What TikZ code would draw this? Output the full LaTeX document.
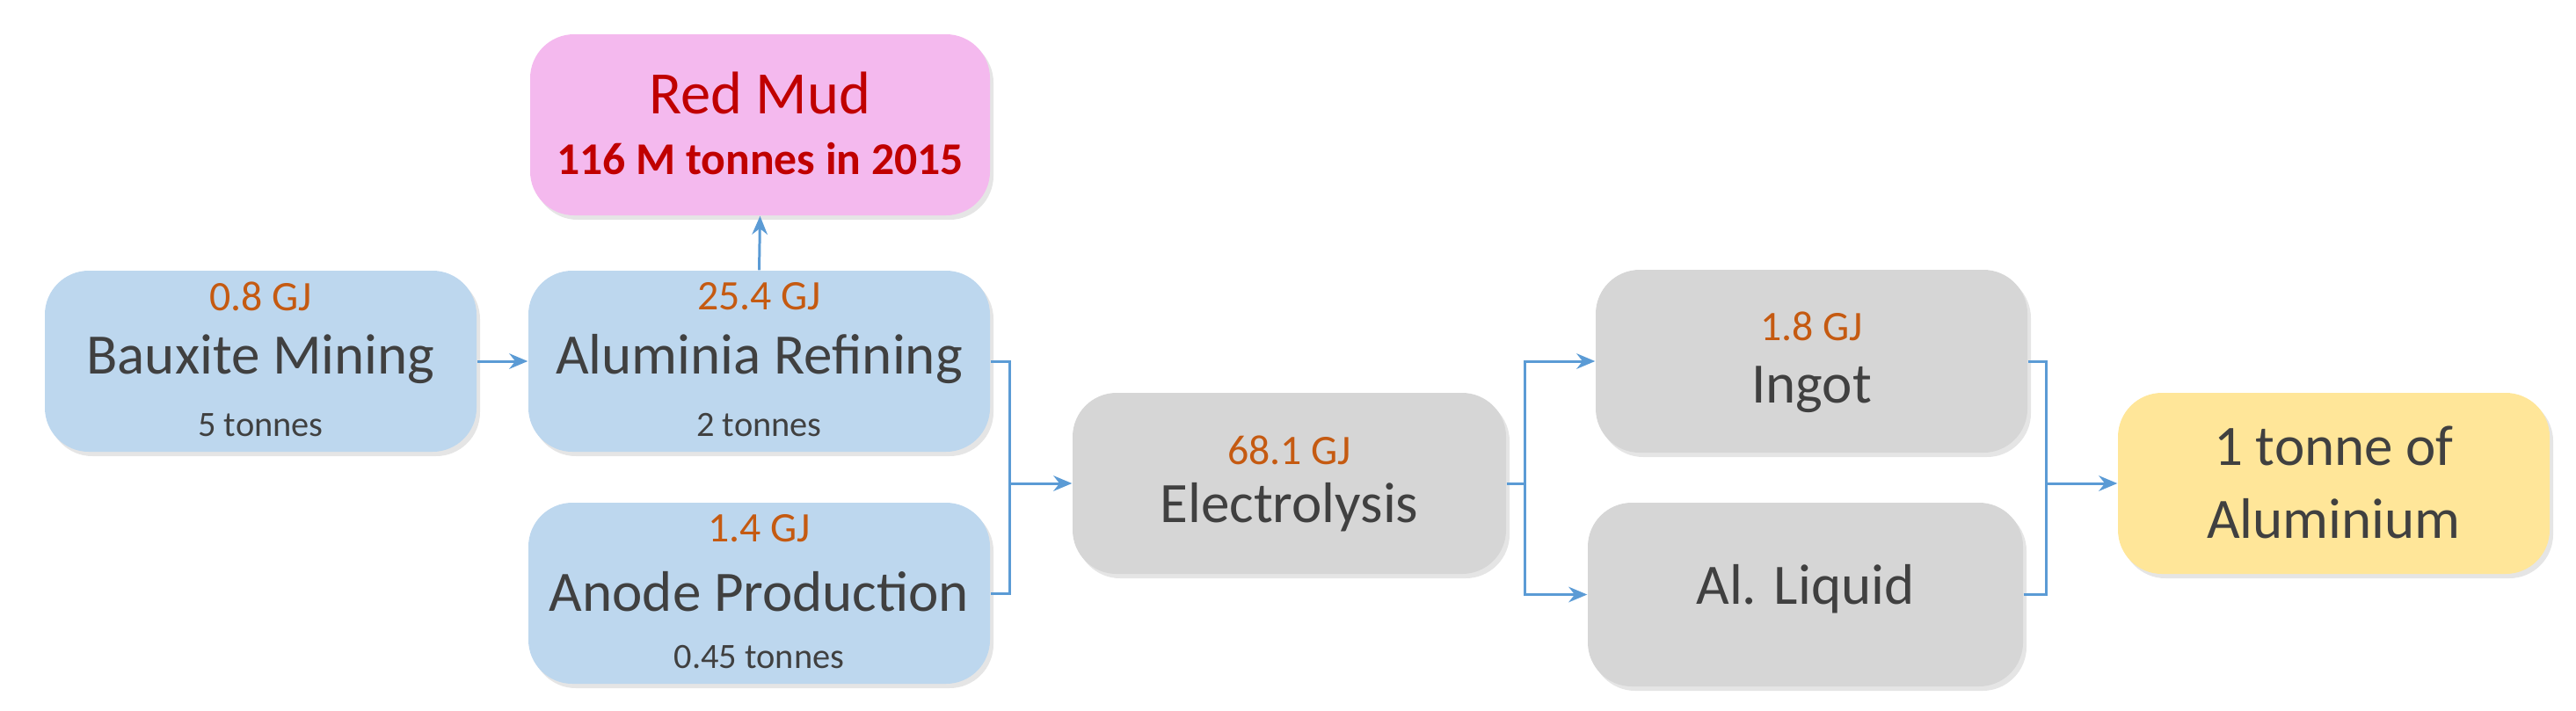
\documentclass[tikz,border=0pt]{standalone}
\usepackage{fontspec}
\setmainfont{Carlito}
\usetikzlibrary{arrows.meta}
\definecolor{bluef}{HTML}{BDD7EE}
\definecolor{grayf}{HTML}{D6D6D6}
\definecolor{pinkf}{HTML}{F4B9EE}
\definecolor{yellf}{HTML}{FFE699}
\definecolor{redt}{HTML}{C00000}
\definecolor{orat}{HTML}{C55A11}
\definecolor{dark}{HTML}{404040}
\definecolor{arr}{HTML}{5B9BD5}
\tikzset{
 box/.style={rounded corners=0.5cm, minimum width=4.91cm, minimum height=2.06cm, inner sep=0pt,
   preaction={fill=black!10, transform canvas={xshift=0.04cm,yshift=-0.05cm}}},
 gj/.style={text=orat, font=\fontsize{13.6}{14}\selectfont},
 mainl/.style={text=dark, font=\fontsize{18.5}{19}\selectfont},
 ton/.style={text=dark, font=\fontsize{11.5}{12}\selectfont},
 conn/.style={draw=arr, line width=0.85pt, -{Stealth[length=6pt,width=5pt]}},
 seg/.style={draw=arr, line width=0.85pt}
}
\begin{document}
\begin{tikzpicture}
\useasboundingbox (0,0) rectangle (29.3,-8.08);
% boxes
\node[box, fill=pinkf, minimum width=5.23cm] (rm) at (8.645,-1.42) {};
\node[box, fill=bluef] (bm) at (2.965,-4.11) {};
\node[box, fill=bluef, minimum width=5.25cm] (ar) at (8.635,-4.11) {};
\node[box, fill=bluef, minimum width=5.25cm] (ap) at (8.635,-6.75) {};
\node[box, fill=grayf, minimum width=4.93cm] (el) at (14.665,-5.50) {};
\node[box, fill=grayf, minimum height=2.08cm] (ig) at (20.605,-4.11) {};
\node[box, fill=grayf, minimum width=4.95cm, minimum height=2.09cm] (al) at (20.535,-6.765) {};
\node[box, fill=yellf] (tn) at (26.545,-5.50) {};
% texts
\node[text=redt, font=\fontsize{19.5}{20}\selectfont] (rm1) at ([yshift=0.36cm]rm.center) {Red Mud};
\node[text=redt, font=\bfseries\fontsize{14.7}{15}\selectfont] (rm2) at ([yshift=-0.39cm]rm.center) {116 M tonnes in 2015};
\node[gj] (bm1) at ([yshift=0.74cm]bm.center) {0.8 GJ};
\node[mainl] (bm2) at ([yshift=0.02cm]bm.center) {Bauxite Mining};
\node[ton] (bm3) at ([yshift=-0.73cm]bm.center) {5 tonnes};
\node[gj] (ar1) at ([yshift=0.74cm]ar.center) {25.4 GJ};
\node[mainl] (ar2) at ([yshift=0.02cm]ar.center) {Aluminia Refining};
\node[ton] (ar3) at ([yshift=-0.73cm]ar.center) {2 tonnes};
\node[gj] (ap1) at ([yshift=0.74cm]ap.center) {1.4 GJ};
\node[mainl] (ap2) at ([yshift=0.02cm]ap.center) {Anode Production};
\node[ton] (ap3) at ([yshift=-0.73cm]ap.center) {0.45 tonnes};
\node[gj] (el1) at ([yshift=0.38cm]el.center) {68.1 GJ};
\node[mainl] (el2) at ([yshift=-0.27cm]el.center) {Electrolysis};
\node[gj] (ig1) at ([yshift=0.40cm]ig.center) {1.8 GJ};
\node[mainl] (ig2) at ([yshift=-0.32cm]ig.center) {Ingot};
\node[mainl] (al1) at ([yshift=0.06cm]al.center) {Al. Liquid};
\node[mainl] (tn1) at ([yshift=0.43cm]tn.center) {1 tonne of};
\node[mainl] (tn2) at ([yshift=-0.40cm]tn.center) {Aluminium};
% connectors
\coordinate (j1) at (11.48,-5.50);
\coordinate (j2) at (17.34,-5.50);
\coordinate (j3) at (23.27,-5.50);
\draw[conn] (bm.east) -- (ar.west);
\draw[conn] (ar.north) -- (rm.south);
\draw[seg] (ar.east) -| (j1);
\draw[seg] (ap.east) -| (j1);
\draw[conn] (j1) -- (el.west);
\draw[seg] (el.east) -- (j2);
\draw[conn] (j2) |- (ig.west);
\draw[conn] (j2) |- (al.west);
\draw[seg] (ig.east) -| (j3);
\draw[seg] (al.east) -| (j3);
\draw[conn] (j3) -- (tn.west);
\end{tikzpicture}
\end{document}
